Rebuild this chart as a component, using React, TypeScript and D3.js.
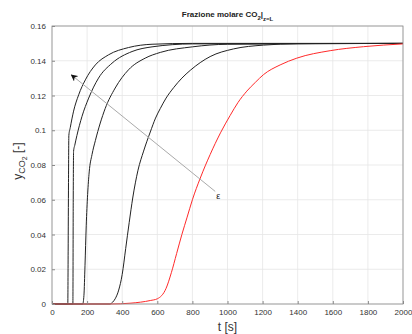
import React, { useEffect, useRef } from "react";
import * as d3 from "d3";

// time [s] and y_CO2 values, one list per curve
const t1 = [0, 90, 92, 94, 96, 104, 123, 152, 190, 247, 322, 436, 570, 800, 2000];
const y1 = [0, 0, 0.03, 0.07, 0.097, 0.1015, 0.111, 0.1204, 0.129, 0.1376, 0.1434, 0.1476, 0.1495, 0.15, 0.15];

const t2 = [0, 119, 121, 123, 130, 142, 171, 209, 265, 342, 456, 570, 800, 2000];
const y2 = [0, 0, 0.06, 0.088, 0.0915, 0.097, 0.108, 0.1185, 0.13, 0.1386, 0.1453, 0.148, 0.1497, 0.15];

const t3 = [0, 175, 182, 188, 195, 203, 212, 228, 247, 303, 360, 436, 531, 617, 800, 1000, 2000];
const y3 = [0, 0, 0.005, 0.022, 0.045, 0.063, 0.076, 0.086, 0.094, 0.1125, 0.1243, 0.1348, 0.1415, 0.1448, 0.148, 0.1495, 0.15];

const t4 = [0, 330, 345, 360, 380, 400, 420, 440, 460, 490, 522, 560, 590, 617, 650, 693, 740, 788, 901, 1034, 1205, 1400, 2000];
const y4 = [0, 0, 0.001, 0.003, 0.008, 0.017, 0.032, 0.047, 0.061, 0.077, 0.088, 0.099, 0.107, 0.1125, 0.1185, 0.1245, 0.13, 0.1345, 0.1424, 0.1468, 0.149, 0.1498, 0.15];

const t5 = [0, 330, 450, 560, 600, 650, 680, 710, 740, 770, 800, 845, 901, 960, 1015, 1060, 1110, 1160, 1205, 1300, 1395, 1585, 1775, 2000];
const y5 = [0, 0, 0.0005, 0.002, 0.003, 0.009, 0.018, 0.029, 0.04, 0.05, 0.06, 0.0725, 0.086, 0.0985, 0.1085, 0.116, 0.1225, 0.1277, 0.132, 0.1376, 0.1415, 0.1458, 0.1481, 0.1497];

const curveColors = ["#222", "#222", "#222", "#222", "#ff2a2a"];

const xTicks = [0, 200, 400, 600, 800, 1000, 1200, 1400, 1600, 1800, 2000];
const yTicks = [0, 0.02, 0.04, 0.06, 0.08, 0.1, 0.12, 0.14, 0.16];

// arrow (epsilon direction) in data coords: tail -> head
const arrowT = [930, 110];
const arrowY = [0.0648, 0.1319];

const App = () => {
  const svgRef = useRef<SVGSVGElement>(null);

  useEffect(() => {
    const w = 412;
    const h = 334;
    const m = { left: 52, right: 9, top: 26, bottom: 30 };
    const font = "Liberation Sans, Arial, sans-serif";
    const svg = d3.select(svgRef.current);
    svg.selectAll("*").remove();
    svg.attr("width", w).attr("height", h);

    const x = d3.scaleLinear().domain([0, 2000]).range([m.left, w - m.right]);
    const y = d3.scaleLinear().domain([0, 0.16]).range([h - m.bottom, m.top]);

    svg.append("rect").attr("width", w).attr("height", h).attr("fill", "#fff");

    // grid
    const grid = svg.append("g").attr("stroke", "#e6e6e6").attr("stroke-width", 0.8);
    grid.selectAll(".gx").data(xTicks).join("line")
      .attr("x1", d => x(d)).attr("x2", d => x(d))
      .attr("y1", y(0)).attr("y2", y(0.16));
    grid.selectAll(".gy").data(yTicks).join("line")
      .attr("x1", x(0)).attr("x2", x(2000))
      .attr("y1", d => y(d)).attr("y2", d => y(d));

    // curves
    const series = [[t1, y1], [t2, y2], [t3, y3], [t4, y4], [t5, y5]];
    const line = d3.line<[number, number]>()
      .x(d => x(d[0]))
      .y(d => y(d[1]))
      .curve(d3.curveMonotoneX);
    series.forEach(([ts, ys], i) => {
      const pts = ts.map((t, k) => [t, ys[k]] as [number, number]);
      svg.append("path")
        .attr("d", line(pts))
        .attr("fill", "none")
        .attr("stroke", curveColors[i])
        .attr("stroke-width", 1);
    });

    // axes box
    const axisColor = "#8a8a8a";
    svg.append("rect")
      .attr("x", x(0)).attr("y", y(0.16))
      .attr("width", x(2000) - x(0)).attr("height", y(0) - y(0.16))
      .attr("fill", "none").attr("stroke", axisColor).attr("stroke-width", 0.8);

    const xAxis = d3.axisBottom(x).tickValues(xTicks).tickSize(-3).tickFormat(d3.format("d"));
    const gx = svg.append("g").attr("transform", `translate(0,${y(0)})`).call(xAxis);
    gx.select(".domain").remove();
    gx.selectAll("line").attr("stroke", axisColor);
    gx.selectAll("text").attr("fill", "#333").attr("font-size", 8)
      .attr("font-family", font).attr("dy", "0.71em").attr("y", 5);

    const yAxis = d3.axisLeft(y).tickValues(yTicks).tickSize(-3).tickFormat(d => String(+d));
    const gy = svg.append("g").attr("transform", `translate(${x(0)},0)`).call(yAxis);
    gy.select(".domain").remove();
    gy.selectAll("line").attr("stroke", axisColor);
    gy.selectAll("text").attr("fill", "#333").attr("font-size", 8)
      .attr("font-family", font).attr("x", -6);

    // arrow
    const defs = svg.append("defs");
    defs.append("marker")
      .attr("id", "ah").attr("viewBox", "0 0 10 10")
      .attr("refX", 9).attr("refY", 5)
      .attr("markerWidth", 7).attr("markerHeight", 7)
      .attr("markerUnits", "userSpaceOnUse")
      .attr("orient", "auto")
      .append("path").attr("d", "M0,0 L10,5 L0,10 L3,5 Z").attr("fill", "#111");
    svg.append("line")
      .attr("x1", x(arrowT[0])).attr("y1", y(arrowY[0]))
      .attr("x2", x(arrowT[1])).attr("y2", y(arrowY[1]))
      .attr("stroke", "#aaa").attr("stroke-width", 1)
      .attr("marker-end", "url(#ah)");
    svg.append("text")
      .attr("x", x(arrowT[0]) + 1).attr("y", y(arrowY[0]) + 8)
      .attr("font-size", 9).attr("font-family", font)
      .attr("fill", "#222")
      .text("ε");

    // title
    const title = svg.append("text")
      .attr("x", (x(0) + x(2000)) / 2).attr("y", 17)
      .attr("text-anchor", "middle")
      .attr("font-size", 8).attr("font-weight", "bold")
      .attr("font-family", font)
      .attr("fill", "#222");
    title.append("tspan").text("Frazione molare CO");
    title.append("tspan").attr("font-size", 6).attr("dy", 3).text("2");
    title.append("tspan").attr("dy", -3).text("|");
    title.append("tspan").attr("font-size", 6).attr("dy", 4).text("z=L");

    // x label
    svg.append("text")
      .attr("x", (x(0) + x(2000)) / 2).attr("y", 331)
      .attr("text-anchor", "middle")
      .attr("font-size", 12).attr("font-family", font)
      .attr("fill", "#333")
      .text("t [s]");

    // y label
    const yl = svg.append("text")
      .attr("transform", `translate(22,${(y(0) + y(0.16)) / 2 - 4}) rotate(-90)`)
      .attr("text-anchor", "middle")
      .attr("font-size", 12).attr("font-family", font)
      .attr("fill", "#333");
    yl.append("tspan").text("y");
    yl.append("tspan").attr("font-size", 9).attr("dy", 3).text("CO");
    yl.append("tspan").attr("font-size", 7).attr("dy", 2).text("2");
    yl.append("tspan").attr("dy", -5).text(" [-]");
  }, []);

  return (
    <div style={{ position: "absolute", left: 0, top: 0 }}>
      <svg ref={svgRef} style={{ display: "block" }}></svg>
    </div>
  );
};

export default App;
